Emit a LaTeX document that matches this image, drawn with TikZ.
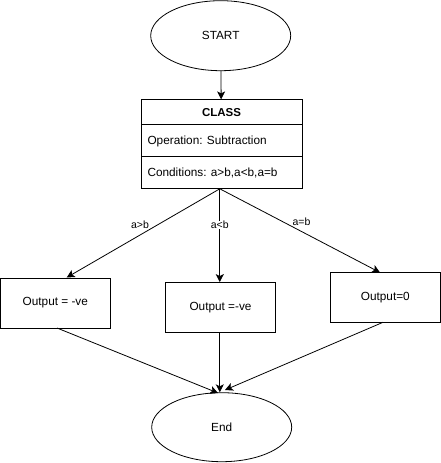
\documentclass[tikz,border=0pt]{standalone}
\usepackage{fontspec}
\setmainfont{Liberation Sans}
\usetikzlibrary{shapes.geometric,arrows.meta}
\tikzset{
  ell/.style={draw, ellipse, line width=0.8pt, minimum width=140pt, minimum height=70pt, inner sep=0pt},
  box/.style={draw, line width=0.8pt, minimum width=110pt, minimum height=50pt, inner sep=0pt},
  conn/.style={line width=0.8pt, -{Stealth[length=8pt,width=8pt,inset=2pt]}},
  plain/.style={line width=0.8pt},
  lbl/.style={fill=white, inner sep=0.5pt, font=\fontsize{10.5}{12}\selectfont},
  txt/.style={font=\fontsize{11.8}{14}\selectfont}
}
\begin{document}
\begin{tikzpicture}[x=1pt,y=-1pt]
\useasboundingbox (0,0) rectangle (441,463);
\node[ell, txt] (start) at (220.7,35.7) {START};
\node[ell, txt, minimum height=69pt] (end) at (221.7,427.2) {End};
% class box
\node[draw, line width=0.8pt, minimum width=161pt, minimum height=89pt, inner sep=0pt] (cls) at (221.5,144.3) {};
\coordinate (h1l) at (141,124.7); \coordinate (h1r) at (302,124.7);
\coordinate (h2l) at (141,156.5); \coordinate (h2r) at (302,156.5);
\draw[plain] (h1l) -- (h1r);
\draw[plain] (h2l) -- (h2r);
\node[font=\fontsize{11.5}{13}\selectfont\bfseries] (clt) at (221.5,112.5) {CLASS};
\node[txt, anchor=west] (op) at (144,141) {Operation: Subtraction};
\node[txt, anchor=west] (cond) at (144,173) {Conditions: a>b,a<b,a=b};
% output boxes
\node[box, txt] (o1) at (55.3,303) {Output = -ve};
\node[box, txt] (o2) at (220.5,307.5) {Output =-ve};
\node[box, txt] (o3) at (385.3,297.5) {Output=0};
\draw[conn] (start) -- (cls);
\coordinate (split) at (219.8,188.8);
\coordinate (t1) at (66.7,277.5);
\coordinate (t3) at (380,272.5);
\draw[conn] (split) -- (t1);
\draw[conn] (split) -- (o2.north -| split);
\draw[conn] (split) -- (t3);
\node[lbl] (l1) at (140,224.3) {a>b};
\node[lbl] (l2) at (219.8,225) {a<b};
\node[lbl] (l3) at (301.5,221.5) {a=b};
\coordinate (b1) at (57,328);
\coordinate (b3) at (383,322.3);
\coordinate (e1) at (218,393);
\coordinate (e3) at (225,390);
\draw[conn] (b1) -- (e1);
\draw[conn] (o2.south -| split) -- (end.north -| split);
\draw[conn] (b3) -- (e3);
\end{tikzpicture}
\end{document}
